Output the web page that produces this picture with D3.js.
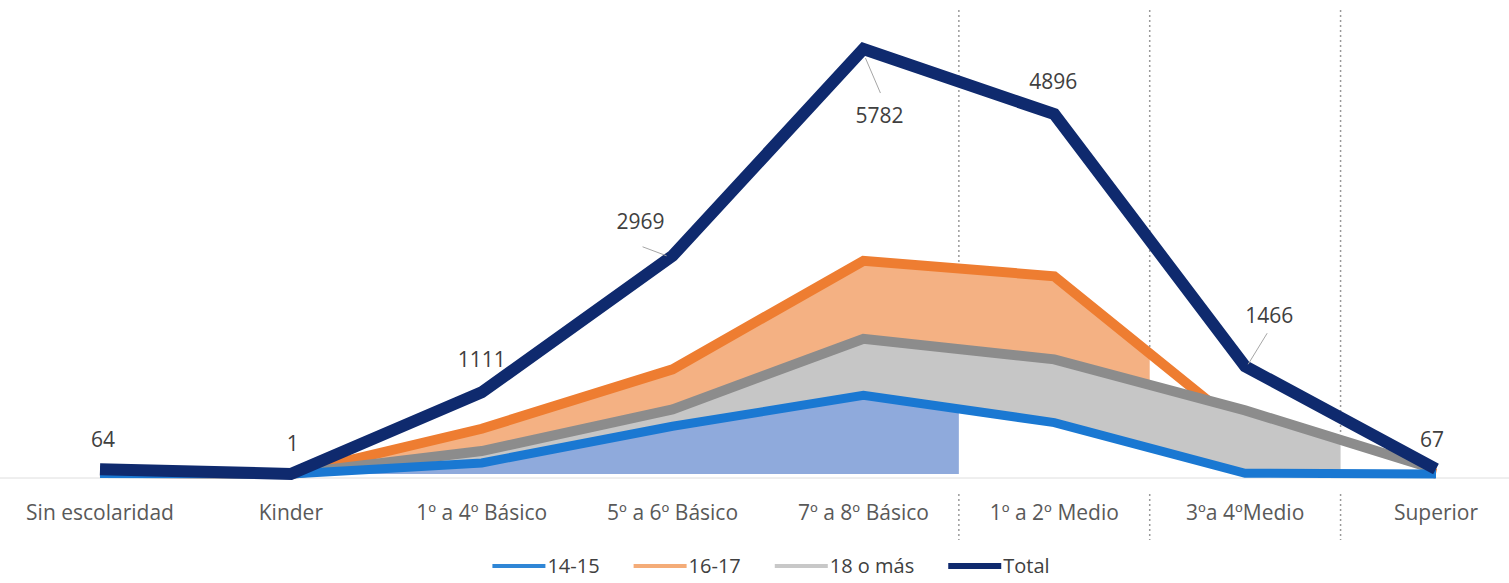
<!DOCTYPE html>
<html><head><meta charset="utf-8">
<script src="https://cdn.jsdelivr.net/npm/d3@7"></script>
<style>
body{margin:0;background:#fff}
svg{display:block}
text{font-family:"Open Sans",sans-serif}
</style>
</head><body>
<svg id="c" width="1509" height="583"></svg>
<script>
// ---- data ----
const categories = ["Sin escolaridad","Kinder","1º a 4º Básico","5º a 6º Básico","7º a 8º Básico","1º a 2º Medio","3ºa 4ºMedio","Superior"];
const total   = [64, 1, 1111, 2969, 5782, 4896, 1466, 67];
const age1415 = [6, 0, 150, 650, 1070, 700, 10, 0];
const age1617 = [18, 0, 615, 1425, 2900, 2690, 590, 5];
const age18   = [40, 1, 312, 880, 1840, 1560, 866, 62];
const seriesNames = ["14-15","16-17","18 o más","Total"];

// ---- layout ----
const W = 1509, H = 583;
const svg = d3.select("#c");
const x = d3.scalePoint().domain(categories).range([100, 1436]);
const y = d3.scaleLinear().domain([0, 6000]).range([474, 33]);
const boundary = i => (x(categories[i]) + x(categories[i+1])) / 2;

const colors = {
  "14-15": {line:"#1a78d2", fill:"#8faadc", legend:"#2f86d6", w:9, fillTo:4},
  "16-17": {line:"#ee7d31", fill:"#f4b183", legend:"#f4ac78", w:10, fillTo:5},
  "18 o más": {line:"#8c8c8c", fill:"#c6c6c6", legend:"#c8c8c8", w:10, fillTo:6},
  "Total": {line:"#0f2a6e", legend:"#0f2a6e", w:12}
};

// axis baseline
svg.append("line").attr("x1",0).attr("x2",W)
  .attr("y1",y(0)+4).attr("y2",y(0)+4)
  .attr("stroke","#dedede").attr("stroke-width",1);

// dotted separators
[4,5,6].forEach(i=>{
  const bx = boundary(i);
  svg.append("line").attr("x1",bx).attr("x2",bx).attr("y1",10).attr("y2",y(0))
    .attr("stroke","#9a9a9a").attr("stroke-width",1.5).attr("stroke-dasharray","2,3");
  svg.append("line").attr("x1",bx).attr("x2",bx).attr("y1",494).attr("y2",540)
    .attr("stroke","#9a9a9a").attr("stroke-width",1.5).attr("stroke-dasharray","2,3");
});

const defs = svg.append("defs");
const area = d3.area().x((d,i)=>x(categories[i])).y0(y(0)).y1(d=>y(d));
const line = d3.line().x((d,i)=>x(categories[i])).y(d=>y(d));

function drawSeries(name, values, id){
  const c = colors[name];
  svg.append("path").attr("d", area(values)).attr("fill","#fff");
  const cid = "clip"+id;
  defs.append("clipPath").attr("id",cid).append("rect")
    .attr("x",0).attr("y",0).attr("width",boundary(c.fillTo)).attr("height",H);
  svg.append("path").attr("d", area(values)).attr("fill",c.fill).attr("clip-path",`url(#${cid})`);
  svg.append("path").attr("d", line(values)).attr("fill","none")
    .attr("stroke",c.line).attr("stroke-width",c.w).attr("stroke-linejoin","miter");
}
drawSeries("16-17", age1617, "o");
drawSeries("18 o más", age18, "g");
drawSeries("14-15", age1415, "b");

svg.append("path").attr("d", line(total)).attr("fill","none")
  .attr("stroke",colors["Total"].line).attr("stroke-width",colors["Total"].w)
  .attr("stroke-linejoin","miter");

// data labels for Total
const labelOffsets = [[3,-22],[2,-23],[0,-25],[-32,-27],[16,74],[-1,-25],[24,-43],[-4,-22]];
const leaders = {3:[[-30,-9],[-6,0]], 4:[[2,9],[17,44]], 6:[[22,-33],[3,-2]]};
total.forEach((v,i)=>{
  const px = x(categories[i]), py = y(v);
  if (leaders[i]) {
    const [a,b] = leaders[i];
    svg.append("line").attr("x1",px+a[0]).attr("y1",py+a[1]).attr("x2",px+b[0]).attr("y2",py+b[1])
      .attr("stroke","#a6a6a6").attr("stroke-width",1);
  }
  svg.append("text").attr("x",px+labelOffsets[i][0]).attr("y",py+labelOffsets[i][1])
    .attr("text-anchor","middle").attr("font-size",21).attr("fill","#404040").text(v);
});

// category labels
svg.append("g").selectAll("text").data(categories).join("text")
  .attr("x",d=>x(d)).attr("y",520).attr("text-anchor","middle")
  .attr("font-size",21).attr("fill","#595959").text(d=>d);

// legend
const lg = svg.append("g");
let cx = 0;
seriesNames.forEach(n=>{
  const g = lg.append("g").attr("transform",`translate(${cx},0)`);
  g.append("line").attr("x1",0).attr("x2",53).attr("y1",566).attr("y2",566)
    .attr("stroke",colors[n].legend).attr("stroke-width", n==="Total"?6:4);
  const t = g.append("text").attr("x",55).attr("y",573).attr("font-size",20)
    .attr("fill","#404040").text(n);
  const w = t.node().getComputedTextLength();
  cx += 55 + w + 34;
});
const lw = cx - 34;
lg.attr("transform",`translate(${771 - lw/2},0)`);
</script>
</body></html>
